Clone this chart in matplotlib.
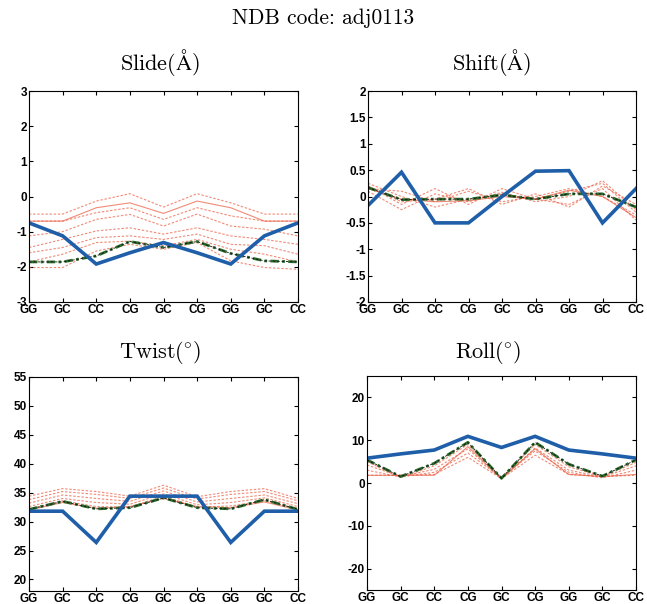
import matplotlib
matplotlib.use("Agg")
import matplotlib.pyplot as plt

plt.rcParams["mathtext.fontset"] = "cm"
plt.rcParams["font.family"] = ["Liberation Sans", "DejaVu Sans"]
plt.rcParams["axes.formatter.use_mathtext"] = True

steps = ["GG", "GC", "CC", "CG", "GC", "CG", "GG", "GC", "CC"]

# --- Slide (A) ---
slide_ref = [-0.75, -1.12, -1.92, -1.6, -1.31, -1.6, -1.92, -1.12, -0.75]
slide_mean = [-1.86, -1.86, -1.69, -1.28, -1.45, -1.28, -1.62, -1.83, -1.86]
slide_runs = [
    [-0.50, -0.50, -0.13, 0.08, -0.30, 0.08, -0.18, -0.50, -0.50],
    [-0.70, -0.70, -0.46, -0.32, -0.65, -0.32, -0.55, -0.70, -0.70],
    [-1.12, -1.00, -0.65, -0.51, -0.84, -0.50, -0.84, -0.93, -1.12],
    [-1.45, -1.22, -0.98, -0.89, -1.07, -0.89, -1.12, -1.22, -1.36],
    [-1.60, -1.45, -1.17, -1.12, -1.22, -1.07, -1.36, -1.40, -1.64],
    [-1.86, -1.64, -1.31, -1.27, -1.40, -1.22, -1.50, -1.64, -1.86],
    [-2.02, -2.02, -1.55, -1.36, -1.50, -1.31, -1.83, -2.02, -2.07],
]
slide_solid = [-0.70, -0.70, -0.32, -0.18, -0.48, -0.13, -0.32, -0.70, -0.70]

# --- Shift (A) ---
shift_ref = [-0.17, 0.46, -0.5, -0.5, 0.0, 0.48, 0.49, -0.5, 0.15]
shift_mean = [0.17, -0.06, -0.05, -0.05, 0.03, -0.05, 0.05, 0.05, -0.2]
shift_runs = [
    [0.25, 0.00, -0.20, -0.05, 0.05, -0.05, 0.10, 0.25, -0.30],
    [0.20, -0.15, 0.15, -0.15, 0.15, -0.05, -0.15, 0.15, -0.45],
    [0.15, 0.10, -0.10, 0.10, -0.10, 0.00, 0.15, 0.00, -0.35],
    [0.10, -0.25, 0.05, -0.10, 0.08, -0.10, 0.00, 0.30, -0.25],
    [0.20, -0.10, -0.05, 0.15, -0.15, 0.05, -0.20, 0.20, -0.15],
]
shift_solid = [0.15, -0.05, -0.10, -0.08, 0.00, -0.05, 0.12, 0.00, -0.40]

# --- Twist (deg) ---
twist_ref = [31.8, 31.8, 26.4, 34.4, 34.4, 34.4, 26.4, 31.8, 31.8]
twist_mean = [32.1, 33.5, 32.2, 32.4, 34.1, 32.4, 32.2, 33.8, 32.1]
twist_runs = [
    [34.4, 35.7, 35.2, 34.4, 36.3, 34.3, 35.2, 35.7, 34.0],
    [33.8, 35.2, 34.7, 34.0, 35.8, 33.9, 34.7, 35.2, 33.6],
    [33.2, 34.6, 34.0, 33.5, 35.3, 33.4, 34.0, 34.6, 33.1],
    [32.6, 34.0, 33.3, 33.0, 34.8, 32.9, 33.3, 34.1, 32.6],
    [32.2, 33.6, 32.6, 32.5, 34.4, 32.5, 32.7, 33.6, 32.2],
]
twist_solid = [32.0, 33.3, 32.3, 32.6, 34.0, 32.6, 32.4, 33.4, 32.0]

# --- Roll (deg) ---
roll_ref = [5.8, 6.8, 7.7, 10.9, 8.3, 10.9, 7.7, 6.8, 5.8]
roll_mean = [5.4, 1.5, 4.6, 9.5, 1.1, 9.5, 4.4, 1.6, 5.4]
roll_runs = [
    [1.8, 1.8, 2.0, 6.0, 1.0, 6.5, 2.0, 1.5, 1.8],
    [3.0, 1.4, 2.5, 7.0, 1.2, 7.5, 2.5, 1.2, 3.0],
    [4.2, 1.5, 3.2, 8.0, 1.0, 8.2, 3.0, 1.4, 4.0],
    [5.0, 1.3, 4.0, 9.0, 1.3, 9.0, 3.8, 1.5, 4.8],
]
roll_solid = [1.8, 1.8, 1.8, 8.5, 1.0, 8.0, 2.0, 1.5, 2.0]

panels = [
    (r"Slide($\mathrm{\AA}$)", slide_ref, slide_mean, slide_runs, slide_solid,
     (-3, 3), [-3, -2, -1, 0, 1, 2, 3], [29, 91, 298, 302], (160, 62)),
    (r"Shift($\mathrm{\AA}$)", shift_ref, shift_mean, shift_runs, shift_solid,
     (-2, 2), [-2, -1.5, -1, -0.5, 0, 0.5, 1, 1.5, 2], [368, 91, 636, 302], (492, 62)),
    (r"Twist($\!^\circ\!$)", twist_ref, twist_mean, twist_runs, twist_solid,
     (18, 55), [20, 25, 30, 35, 40, 45, 50, 55], [29, 377, 298, 591], (160, 352)),
    (r"Roll($\!^\circ\!$)", roll_ref, roll_mean, roll_runs, roll_solid,
     (-25, 25), [-20, -10, 0, 10, 20], [367, 376, 636, 590], (488, 352)),
]

W, H = 647, 604
fig = plt.figure(figsize=(W / 100, H / 100), dpi=100)
fig.text(0.5, 1 - 18 / H, "NDB code: adj0113", ha="center", va="center",
         fontsize=15.5, family="cmr10")

x = list(range(len(steps)))
red = "#ea5a3e"
for title, ref, mean, runs, solid, ylim, yticks, box, tpos in panels:
    l, t, r, b = box
    ax = fig.add_axes([l / W, 1 - b / H, (r - l) / W, (b - t) / H])
    for run in runs:
        ax.plot(x, run, color=red, lw=0.8, alpha=0.7, dashes=(2.2, 1.5))
    ax.plot(x, solid, color=red, lw=0.8, alpha=0.7)
    ax.plot(x, mean, color="#2b6a2b", lw=2.0, dashes=(3, 1.2, 1, 1.2))
    ax.plot(x, mean, color="#111111", lw=0.6, dashes=(3, 2.2))
    ax.plot(x, ref, color="#1f5ea8", lw=2.6, solid_joinstyle="miter")
    ax.set_xlim(0, len(steps) - 1)
    ax.set_ylim(*ylim)
    ax.set_xticks(x)
    ax.set_xticklabels(steps, fontsize=8.5, fontweight="bold")
    ax.set_yticks(yticks)
    ax.set_yticklabels([f"{v:g}" for v in yticks], fontsize=8.5, fontweight="bold")
    ax.tick_params(direction="in", length=3, top=True, right=True, pad=1.5, width=0.8)
    for s in ax.spines.values():
        s.set_linewidth(0.8)
    fig.text(tpos[0] / W, 1 - tpos[1] / H, title, ha="center", va="center",
             fontsize=16, family="cmr10")

fig.savefig("out.png", dpi=100)
